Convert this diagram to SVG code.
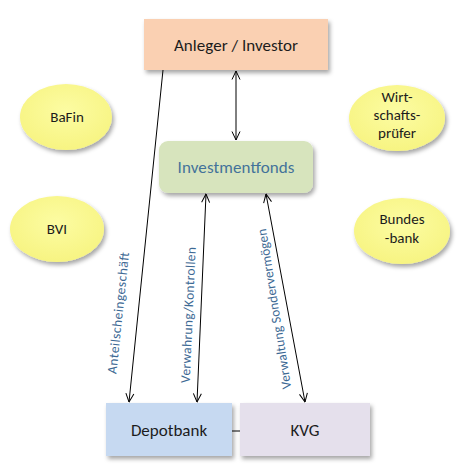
<svg xmlns="http://www.w3.org/2000/svg" width="464" height="474" viewBox="0 0 464 474">
<style>
  .t{font-family:Carlito,Lato,"Open Sans",sans-serif;fill:#1c1c1c;text-anchor:middle}
  .main{font-size:17px}
  .ell{font-size:15px}
  .lbl{font-family:Carlito,Lato,"Open Sans",sans-serif;font-size:13.5px;fill:#3d6994;text-anchor:middle}
  .c{stroke:#000;stroke-width:1;fill:none}
</style>
<defs>
  <filter id="sh" x="-20%" y="-20%" width="140%" height="150%">
    <feDropShadow dx="2" dy="3" stdDeviation="2" flood-color="#000" flood-opacity="0.35"/>
  </filter>
  <radialGradient id="yel" cx="50%" cy="40%" r="60%">
    <stop offset="0" stop-color="#fcfca2"/>
    <stop offset="1" stop-color="#f7f482"/>
  </radialGradient>
  <marker id="ah" viewBox="0 0 10 10" refX="9.5" refY="5" markerWidth="10" markerHeight="10" markerUnits="userSpaceOnUse" orient="auto-start-reverse">
    <path d="M1,1 L9.5,5 L1,9" fill="none" stroke="#000" stroke-width="1"/>
  </marker>
</defs>
<rect width="464" height="474" fill="#fff"/>

<g id="anleger">
  <rect x="144" y="19" width="184" height="51" fill="#fad0b2" filter="url(#sh)"/>
  <text class="t main" x="236" y="51" textLength="124">Anleger / Investor</text>
</g>
<g id="investmentfonds">
  <rect x="159" y="141" width="154" height="52" rx="9" fill="#d7e4bd" filter="url(#sh)"/>
  <text class="t main" x="236" y="173" style="fill:#43729a" textLength="117">Investmentfonds</text>
</g>
<g id="bafin">
  <ellipse cx="66" cy="117" rx="46" ry="33" fill="url(#yel)" filter="url(#sh)"/>
  <text class="t ell" x="67" y="122">BaFin</text>
</g>
<g id="bvi">
  <ellipse cx="57" cy="229" rx="47" ry="33" fill="url(#yel)" filter="url(#sh)"/>
  <text class="t ell" x="57" y="234">BVI</text>
</g>
<g id="wirtschaftspruefer">
  <ellipse cx="397" cy="118" rx="48" ry="33" fill="url(#yel)" filter="url(#sh)"/>
  <text class="t ell" x="397" y="102">Wirt-</text>
  <text class="t ell" x="397" y="120">schafts-</text>
  <text class="t ell" x="397" y="138">prüfer</text>
</g>
<g id="bundesbank">
  <ellipse cx="402" cy="231" rx="48" ry="33" fill="url(#yel)" filter="url(#sh)"/>
  <text class="t ell" x="402" y="224">Bundes</text>
  <text class="t ell" x="402" y="243">-bank</text>
</g>
<g id="depotbank">
  <rect x="106" y="403" width="126" height="53" fill="#c6d9f1" filter="url(#sh)"/>
  <text class="t main" x="169" y="436">Depotbank</text>
</g>
<g id="kvg">
  <rect x="240" y="403" width="130" height="53" fill="#e5e0ec" filter="url(#sh)"/>
  <text class="t main" x="305" y="436">KVG</text>
</g>

<g id="connectors">
  <line class="c" x1="163" y1="70" x2="129" y2="402" marker-end="url(#ah)"/>
  <line class="c" x1="236" y1="71" x2="236" y2="140" marker-start="url(#ah)" marker-end="url(#ah)"/>
  <line class="c" x1="206" y1="194" x2="197" y2="402" marker-start="url(#ah)" marker-end="url(#ah)"/>
  <line class="c" x1="266" y1="194" x2="305" y2="402" marker-start="url(#ah)" marker-end="url(#ah)"/>
  <line class="c" x1="232" y1="431" x2="240" y2="431"/>
  <text class="lbl" transform="translate(118,313) rotate(-84)" dy="0.35em" textLength="122">Anteilscheingeschäft</text>
  <text class="lbl" transform="translate(188,315) rotate(-87.5)" dy="0.35em" textLength="136">Verwahrung/Kontrollen</text>
  <text class="lbl" transform="translate(274,309) rotate(-99)" dy="0.35em" textLength="162">Verwaltung Sondervermögen</text>
</g>
</svg>
